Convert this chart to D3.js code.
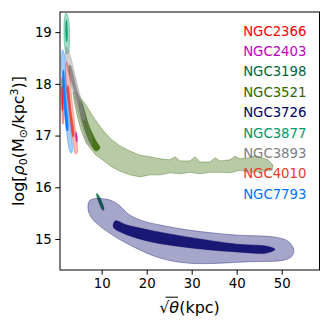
<!DOCTYPE html>
<html>
<head>
<meta charset="utf-8">
<script src="https://cdn.jsdelivr.net/npm/d3@7"></script>
<style>
  body { margin: 0; background: #fff; }
  svg text { font-family: "DejaVu Sans", sans-serif; }
</style>
</head>
<body>
<svg id="chart" width="332" height="327"></svg>
<script>
// galaxies, in plotting order
const galaxies = ['NGC2366', 'NGC2403', 'NGC3198', 'NGC3521', 'NGC3726', 'NGC3877', 'NGC3893', 'NGC4010', 'NGC7793'];
const palette = ['#ff0000', '#c000c0', '#006633', '#336600', '#000066', '#009966', '#808080', '#e8382c', '#0073ff'];

const xTicks = [10, 20, 30, 40, 50];
const yTicks = [15, 16, 17, 18, 19];

// contour outlines, [sqrt(theta) kpc, log rho0]
const ngc2366Outer = [[1.18,18.13],[1.51,17.88],[1.58,17.30],[1.40,17.22],[1.13,17.49],[0.96,17.97]];
const ngc2366Inner = [[1.20,17.95],[1.42,17.55],[1.32,17.48],[1.12,17.88]];
const ngc2403Outer = [[4.29,17.07],[4.58,16.97],[4.51,16.87],[4.24,16.95]];
const ngc3198Outer = [[8.9,15.88],[9.2,15.86],[10.5,15.59],[10.3,15.55],[9.0,15.80]];
const ngc3521Outer = [
  [3.62,17.84],[4.73,17.80],[6.51,17.59],[8.29,17.34],[9.84,17.15],[11.84,16.95],[14.07,16.80],
  [16.29,16.70],[18.51,16.62],[20.73,16.59],[22.96,16.55],[25.18,16.53],[26.29,16.59],[27.40,16.51],
  [29.62,16.51],[30.73,16.59],[31.84,16.49],[34.07,16.49],[35.18,16.57],[36.29,16.51],[38.51,16.53],
  [39.62,16.60],[40.73,16.55],[42.96,16.57],[44.07,16.62],[45.62,16.57],[46.96,16.53],[48.07,16.43],
  [47.84,16.33],[45.62,16.31],[42.96,16.29],[40.73,16.33],[38.51,16.28],[36.29,16.29],[34.07,16.29],
  [31.84,16.26],[29.62,16.29],[27.40,16.26],[25.18,16.28],[22.96,16.24],[20.73,16.24],[18.51,16.20],
  [16.29,16.24],[14.07,16.31],[12.29,16.39],[10.51,16.51],[8.51,16.64],[6.51,16.86],[5.40,17.11],
  [4.51,17.40],[3.84,17.69]
];
const ngc3521Inner = [[5.20,17.68],[5.62,17.63],[7.18,17.19],[8.73,16.90],[9.62,16.76],[8.73,16.70],[7.40,16.86],[6.07,17.17],[4.96,17.59]];
const ngc3726Outer = [
  [7.4,15.75],[11.1,15.77],[13.3,15.69],[16.3,15.46],[19.2,15.35],[23.0,15.27],[29.6,15.17],
  [39.2,15.08],[48.9,15.03],[51.5,14.95],[52.7,14.79],[52.2,14.66],[50.4,14.59],[43.0,14.56],
  [29.6,14.53],[23.0,14.63],[17.0,14.85],[11.8,15.11],[8.1,15.37],[7.0,15.56]
];
const ngc3726Inner = [
  [13.0,15.35],[15.6,15.27],[20.7,15.17],[29.6,15.03],[40.0,14.90],[46.7,14.86],[48.5,14.80],
  [46.7,14.73],[40.0,14.75],[29.6,14.83],[20.7,14.95],[14.8,15.11],[12.6,15.23]
];
const ngc3877Outer = [[2.07,19.37],[2.62,19.27],[2.84,19.04],[2.84,18.81],[2.62,18.60],[2.18,18.58],[1.73,18.75],[1.62,19.04],[1.73,19.27]];
const ngc3877Inner = [[2.18,19.24],[2.40,18.95],[2.24,18.81],[2.02,18.95],[2.07,19.20]];
const ngc3893Outer = [[2.18,18.71],[2.96,18.56],[4.07,18.17],[5.18,17.78],[6.51,17.34],[7.84,16.91],[7.62,16.80],[6.96,16.84],[5.62,17.20],[4.07,17.69],[2.73,18.17],[1.96,18.56]];
const ngc3893Inner = [[2.96,18.37],[4.51,17.88],[6.29,17.34],[6.07,17.28],[4.07,17.82],[2.62,18.31]];
const ngc4010Outer = [[2.18,18.43],[2.73,18.27],[3.40,17.69],[4.29,17.01],[4.62,16.68],[4.18,16.64],[3.62,16.91],[2.62,17.59],[1.96,18.17]];
const ngc4010Inner = [[2.51,17.97],[3.18,17.49],[3.84,17.01],[3.62,16.97],[2.84,17.45],[2.29,17.92]];
const ngc7793Outer = [[1.29,18.66],[1.73,18.56],[2.07,18.07],[2.73,17.40],[3.51,16.76],[3.29,16.66],[2.84,16.72],[1.96,17.30],[1.29,17.97],[1.07,18.46]];
const ngc7793Inner = [[1.51,18.27],[2.07,17.69],[2.51,17.11],[2.29,17.09],[1.62,17.69],[1.36,18.23]];

const contours = [
  {g: 'NGC2366', level: 'outer', pts: ngc2366Outer},
  {g: 'NGC2366', level: 'inner', pts: ngc2366Inner},
  {g: 'NGC2403', level: 'inner', pts: ngc2403Outer},
  {g: 'NGC3198', level: 'inner', pts: ngc3198Outer},
  {g: 'NGC3521', level: 'outer', pts: ngc3521Outer, jagged: true},
  {g: 'NGC3521', level: 'inner', pts: ngc3521Inner},
  {g: 'NGC3726', level: 'outer', pts: ngc3726Outer},
  {g: 'NGC3726', level: 'inner', pts: ngc3726Inner},
  {g: 'NGC3877', level: 'outer', pts: ngc3877Outer},
  {g: 'NGC3877', level: 'inner', pts: ngc3877Inner},
  {g: 'NGC3893', level: 'outer', pts: ngc3893Outer},
  {g: 'NGC3893', level: 'inner', pts: ngc3893Inner},
  {g: 'NGC4010', level: 'outer', pts: ngc4010Outer},
  {g: 'NGC4010', level: 'inner', pts: ngc4010Inner},
  {g: 'NGC7793', level: 'outer', pts: ngc7793Outer},
  {g: 'NGC7793', level: 'inner', pts: ngc7793Inner}
];

const svg = d3.select('#chart');
const margin = {top: 12, right: 12.5, bottom: 57, left: 60};
const W = 332, H = 327;

const color = d3.scaleOrdinal().domain(galaxies).range(palette);
const xScale = d3.scaleLinear().domain([0.74, 58.4]).range([margin.left, W - margin.right]);
const yScale = d3.scaleLinear().domain([14.40, 19.39]).range([H - margin.bottom, margin.top]);

const smooth = d3.line()
    .x(d => xScale(d[0]))
    .y(d => yScale(d[1]))
    .curve(d3.curveCatmullRomClosed.alpha(0.5));
const rough = d3.line()
    .x(d => xScale(d[0]))
    .y(d => yScale(d[1]))
    .curve(d3.curveLinearClosed);

svg.append('clipPath').attr('id', 'clip')
  .append('rect')
    .attr('x', margin.left).attr('y', margin.top)
    .attr('width', W - margin.left - margin.right)
    .attr('height', H - margin.top - margin.bottom);

const plot = svg.append('g').attr('clip-path', 'url(#clip)');
plot.selectAll('path').data(contours)
  .enter().append('path')
    .attr('d', d => d.jagged ? rough(d.pts) : smooth(d.pts))
    .attr('fill', d => color(d.g))
    .attr('fill-opacity', d => d.level === 'outer' ? 0.35 : 0.85)
    .attr('stroke', d => color(d.g))
    .attr('stroke-opacity', d => d.level === 'outer' ? 0.45 : 0.6)
    .attr('stroke-width', 0.8)
    .attr('stroke-linejoin', 'round');

// axes
const xAxis = d3.axisBottom(xScale).tickValues(xTicks).tickSize(4.7).tickPadding(3.5).tickFormat(d3.format('d'));
const yAxis = d3.axisLeft(yScale).tickValues(yTicks).tickSize(4.7).tickPadding(3.5).tickFormat(d3.format('d'));

const gx = svg.append('g').attr('transform', `translate(0,${H - margin.bottom})`).call(xAxis);
const gy = svg.append('g').attr('transform', `translate(${margin.left},0)`).call(yAxis);
[gx, gy].forEach(g => {
  g.select('.domain').remove();
  g.selectAll('.tick line').attr('stroke', '#000').attr('stroke-width', 1);
  g.selectAll('.tick text').attr('font-size', 13.3).attr('fill', '#000')
    .attr('font-family', '"DejaVu Sans", sans-serif');
});

svg.append('rect')
    .attr('x', margin.left).attr('y', margin.top)
    .attr('width', W - margin.left - margin.right)
    .attr('height', H - margin.top - margin.bottom)
    .attr('fill', 'none').attr('stroke', '#000').attr('stroke-width', 1);

// labels
svg.append('g').selectAll('text').data(galaxies)
  .enter().append('text')
    .attr('x', 306.5)
    .attr('y', (d, i) => 35.6 + i * 20.4)
    .attr('text-anchor', 'end')
    .attr('font-size', 13.3)
    .attr('fill', d => color(d))
    .text(d => d);

// x label: sqrt(theta) (kpc)
const xl = svg.append('text')
    .attr('x', 189.5).attr('y', 313)
    .attr('text-anchor', 'middle')
    .attr('font-size', 16);
xl.append('tspan').text('\u221A');
xl.append('tspan').attr('font-style', 'italic').text('\u03B8');
xl.append('tspan').text('(kpc)');
svg.append('line')
    .attr('x1', 165.5).attr('x2', 178)
    .attr('y1', 297.2).attr('y2', 297.2)
    .attr('stroke', '#000').attr('stroke-width', 1);

// y label
const yl = svg.append('text')
    .attr('transform', 'translate(24,141) rotate(-90)')
    .attr('text-anchor', 'middle')
    .attr('font-size', 16);
yl.append('tspan').text('log[');
yl.append('tspan').attr('font-style', 'italic').text('\u03C1');
yl.append('tspan').attr('font-size', 11).attr('dy', 3).text('0');
yl.append('tspan').attr('dy', -3).text('(M');
yl.append('tspan').attr('font-size', 11).attr('dy', 3).text('\u2299');
yl.append('tspan').attr('dy', -3).text('/kpc');
yl.append('tspan').attr('font-size', 11).attr('dy', -6).text('3');
yl.append('tspan').attr('dy', 6).text(')]');
</script>
</body>
</html>
